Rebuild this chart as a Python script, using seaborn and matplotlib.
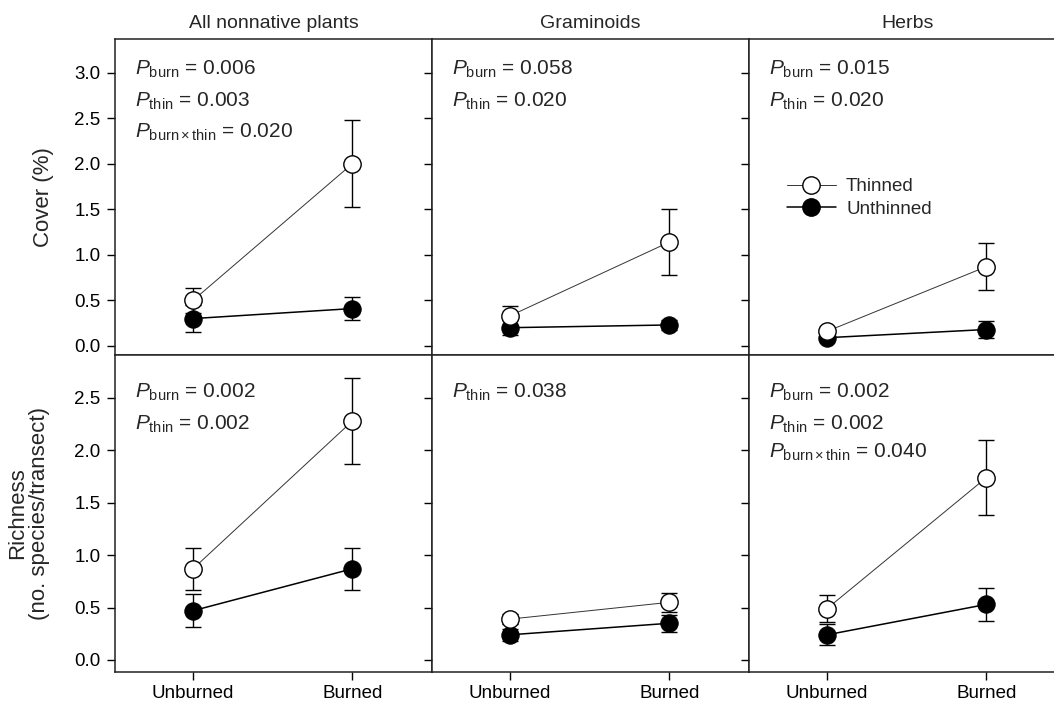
import matplotlib
matplotlib.use("Agg")
import matplotlib.pyplot as plt
import numpy as np
import seaborn as sns
from matplotlib.lines import Line2D

burn_levels = ["Unburned", "Burned"]
groups = ["All nonnative plants", "Graminoids", "Herbs"]

# cover (%), per group: [unburned, burned]
cover_thinned = [[0.50, 2.00], [0.33, 1.14], [0.16, 0.87]]
cover_thinned_se = [[0.14, 0.48], [0.11, 0.36], [0.04, 0.26]]
cover_unthinned = [[0.30, 0.41], [0.20, 0.23], [0.09, 0.18]]
cover_unthinned_se = [[0.15, 0.13], [0.08, 0.05], [0.03, 0.09]]

# richness (no. species/transect)
rich_thinned = [[0.87, 2.28], [0.39, 0.55], [0.49, 1.74]]
rich_thinned_se = [[0.20, 0.41], [0.05, 0.09], [0.13, 0.36]]
rich_unthinned = [[0.47, 0.87], [0.24, 0.35], [0.24, 0.53]]
rich_unthinned_se = [[0.16, 0.20], [0.06, 0.08], [0.10, 0.16]]

cover_stats = [
    ["$P_{\\mathrm{burn}}$ = 0.006", "$P_{\\mathrm{thin}}$ = 0.003",
     "$P_{\\mathrm{burn}\\times\\mathrm{thin}}$ = 0.020"],
    ["$P_{\\mathrm{burn}}$ = 0.058", "$P_{\\mathrm{thin}}$ = 0.020"],
    ["$P_{\\mathrm{burn}}$ = 0.015", "$P_{\\mathrm{thin}}$ = 0.020"],
]
rich_stats = [
    ["$P_{\\mathrm{burn}}$ = 0.002", "$P_{\\mathrm{thin}}$ = 0.002"],
    ["$P_{\\mathrm{thin}}$ = 0.038"],
    ["$P_{\\mathrm{burn}}$ = 0.002", "$P_{\\mathrm{thin}}$ = 0.002",
     "$P_{\\mathrm{burn}\\times\\mathrm{thin}}$ = 0.040"],
]

sns.set_theme(style="ticks")
plt.rcParams["font.family"] = ["Liberation Sans", "DejaVu Sans"]
plt.rcParams["mathtext.fontset"] = "custom"
plt.rcParams["mathtext.rm"] = "Liberation Sans"
plt.rcParams["mathtext.it"] = "Liberation Sans:italic"
plt.rcParams["mathtext.default"] = "it"

W, H = 1054, 704
fig = plt.figure(figsize=(W / 100, H / 100), dpi=100)

col_left = [115, 432, 749]
col_w = 317
rows = [(39, 355), (355, 672)]


def add_panel(ax, thin, thin_se, unthin, unthin_se, stats, ys):
    x = np.arange(len(burn_levels))
    ax.errorbar(x, unthin, yerr=unthin_se, fmt="none", ecolor="black",
                elinewidth=1, capsize=6, capthick=1, zorder=1)
    ax.errorbar(x, thin, yerr=thin_se, fmt="none", ecolor="black",
                elinewidth=1, capsize=6, capthick=1, zorder=1)
    sns.lineplot(x=x, y=unthin, ax=ax, color="black", lw=1.1, marker="o",
                 ms=12.5, mfc="black", mec="black", zorder=3)
    sns.lineplot(x=x, y=thin, ax=ax, color="#333333", lw=0.7, marker="o",
                 ms=12.5, mfc="white", mec="black", mew=1, zorder=4)
    for s, y in zip(stats, ys):
        ax.text(0.062, y, s, transform=ax.transAxes, fontsize=15,
                va="baseline", ha="left")


axes = []
for r, (top, bot) in enumerate(rows):
    for c in range(3):
        rect = [col_left[c] / W, 1 - bot / H, col_w / W, (bot - top) / H]
        ax = fig.add_axes(rect)
        axes.append(ax)
        if r == 0:
            add_panel(ax, cover_thinned[c], cover_thinned_se[c], cover_unthinned[c],
                      cover_unthinned_se[c], cover_stats[c], [0.886, 0.785, 0.687])
            ax.set_ylim(-0.1, 3.37)
            ax.set_yticks(np.arange(0, 3.01, 0.5))
            ax.set_title(groups[c], fontsize=14, pad=8)
        else:
            ys = [0.864, 0.763, 0.675]
            add_panel(ax, rich_thinned[c], rich_thinned_se[c], rich_unthinned[c],
                      rich_unthinned_se[c], rich_stats[c], ys)
            ax.set_ylim(-0.115, 2.91)
            ax.set_yticks(np.arange(0, 2.51, 0.5))
        ax.set_xlim(-0.49, 1.5)
        ax.set_xticks(range(len(burn_levels)))
        ax.set_xticklabels(burn_levels if r == 1 else [])
        ax.yaxis.set_major_formatter(matplotlib.ticker.FormatStrFormatter("%.1f"))
        if c > 0:
            ax.tick_params(axis="y", labelleft=False)
        ax.tick_params(direction="out", length=6, width=1, colors="black",
                       labelsize=13.5, pad=3)
        ax.tick_params(axis="y", length=5.5, pad=5)
        ax.set_xlabel("")
        ax.set_ylabel("")
        for sp in ax.spines.values():
            sp.set_visible(True)
            sp.set_color("#222222")
            sp.set_linewidth(1.1)
        ax.set_facecolor("white")

handles = [
    Line2D([], [], color="#333333", lw=0.7, marker="o", ms=12.5, mfc="white", mec="black"),
    Line2D([], [], color="black", lw=1.1, marker="o", ms=12.5, mfc="black", mec="black"),
]
axes[2].legend(handles, ["Thinned", "Unthinned"], loc="upper left",
               bbox_to_anchor=(0.12, 0.56), frameon=False, fontsize=13.5,
               borderpad=0, borderaxespad=0, handlelength=2.6,
               handletextpad=0.55, labelspacing=0.3)

fig.text(44 / W, 1 - 197 / H, "Cover (%)", rotation=90, ha="center",
         va="center", fontsize=16)
fig.text(29 / W, 1 - 513 / H, "Richness\n(no. species/transect)", rotation=90,
         ha="center", va="center", fontsize=16, linespacing=1.05)

fig.savefig("out.png", dpi=100, facecolor="white")
